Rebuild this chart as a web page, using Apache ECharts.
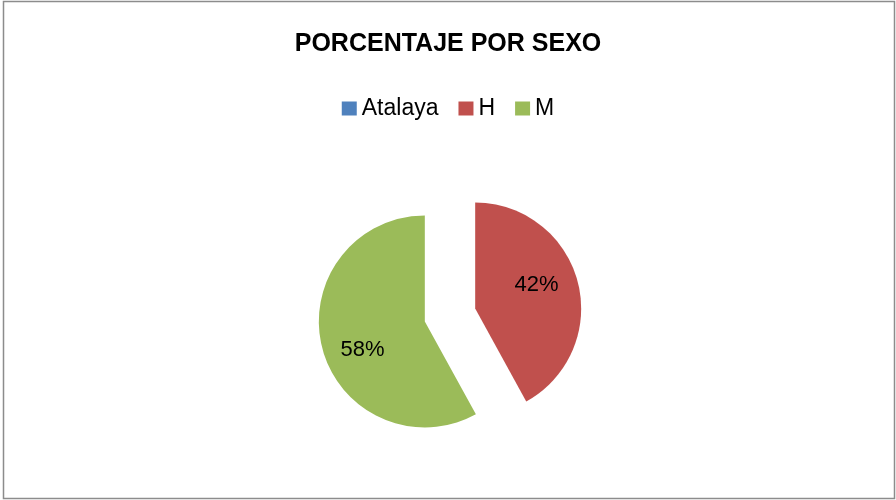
<!DOCTYPE html>
<html style="height: 100%">
<head>
    <meta charset="utf-8">
    <title>PORCENTAJE POR SEXO</title>
</head>
<body style="height: 100%; margin: 0; background: #fff">
    <div id="container" style="width: 896px; height: 500px"></div>
    <script src="https://cdn.jsdelivr.net/npm/echarts@6/dist/echarts.min.js"></script>
    <script type="text/javascript">
        var categories = ['Atalaya', 'H', 'M'];
        var values = [0, 42, 58];
        var colors = ['#4F81BD', '#C0504D', '#9BBB59'];
        // label nudges to mimic Excel's best-fit placement
        var labelShift = [[0, 0], [7, -10], [-8, 15]];

        var myChart = echarts.init(document.getElementById('container'));

        var pieData = [];
        for (var i = 0; i < categories.length; i++) {
            pieData.push({
                name: categories[i],
                value: values[i],
                selected: true,
                itemStyle: { color: colors[i] }
            });
        }

        var option = {
            backgroundColor: '#fff',
            animation: false,
            title: {
                text: 'PORCENTAJE POR SEXO',
                left: 'center',
                top: 27,
                textStyle: {
                    fontFamily: 'Liberation Sans',
                    fontSize: 25,
                    fontWeight: 'bold',
                    color: '#000'
                }
            },
            legend: {
                data: categories,
                left: 'center',
                top: 92,
                icon: 'rect',
                itemWidth: 15,
                itemHeight: 14,
                itemGap: 20,
                selectedMode: false,
                textStyle: {
                    fontFamily: 'Liberation Sans',
                    fontSize: 23,
                    color: '#000'
                }
            },
            graphic: [{
                type: 'rect',
                shape: { x: 3.5, y: 1.5, width: 891, height: 497 },
                style: { fill: 'none', stroke: '#8c8c8c', lineWidth: 1.5 },
                silent: true
            }],
            series: [{
                type: 'pie',
                center: [450, 315],
                radius: 106,
                startAngle: 90,
                clockwise: true,
                selectedMode: 'multiple',
                selectedOffset: 26,
                avoidLabelOverlap: false,
                data: pieData,
                label: {
                    show: true,
                    position: 'inner',
                    formatter: function (p) {
                        return p.value > 0 ? Math.round(p.percent) + '%' : '';
                    },
                    fontFamily: 'Liberation Sans',
                    fontSize: 22,
                    color: '#000'
                },
                labelLine: { show: false },
                labelLayout: function (params) {
                    var s = labelShift[params.dataIndex];
                    return { dx: s[0], dy: s[1] };
                },
                emphasis: { disabled: true }
            }]
        };

        myChart.setOption(option);
    </script>
</body>
</html>
